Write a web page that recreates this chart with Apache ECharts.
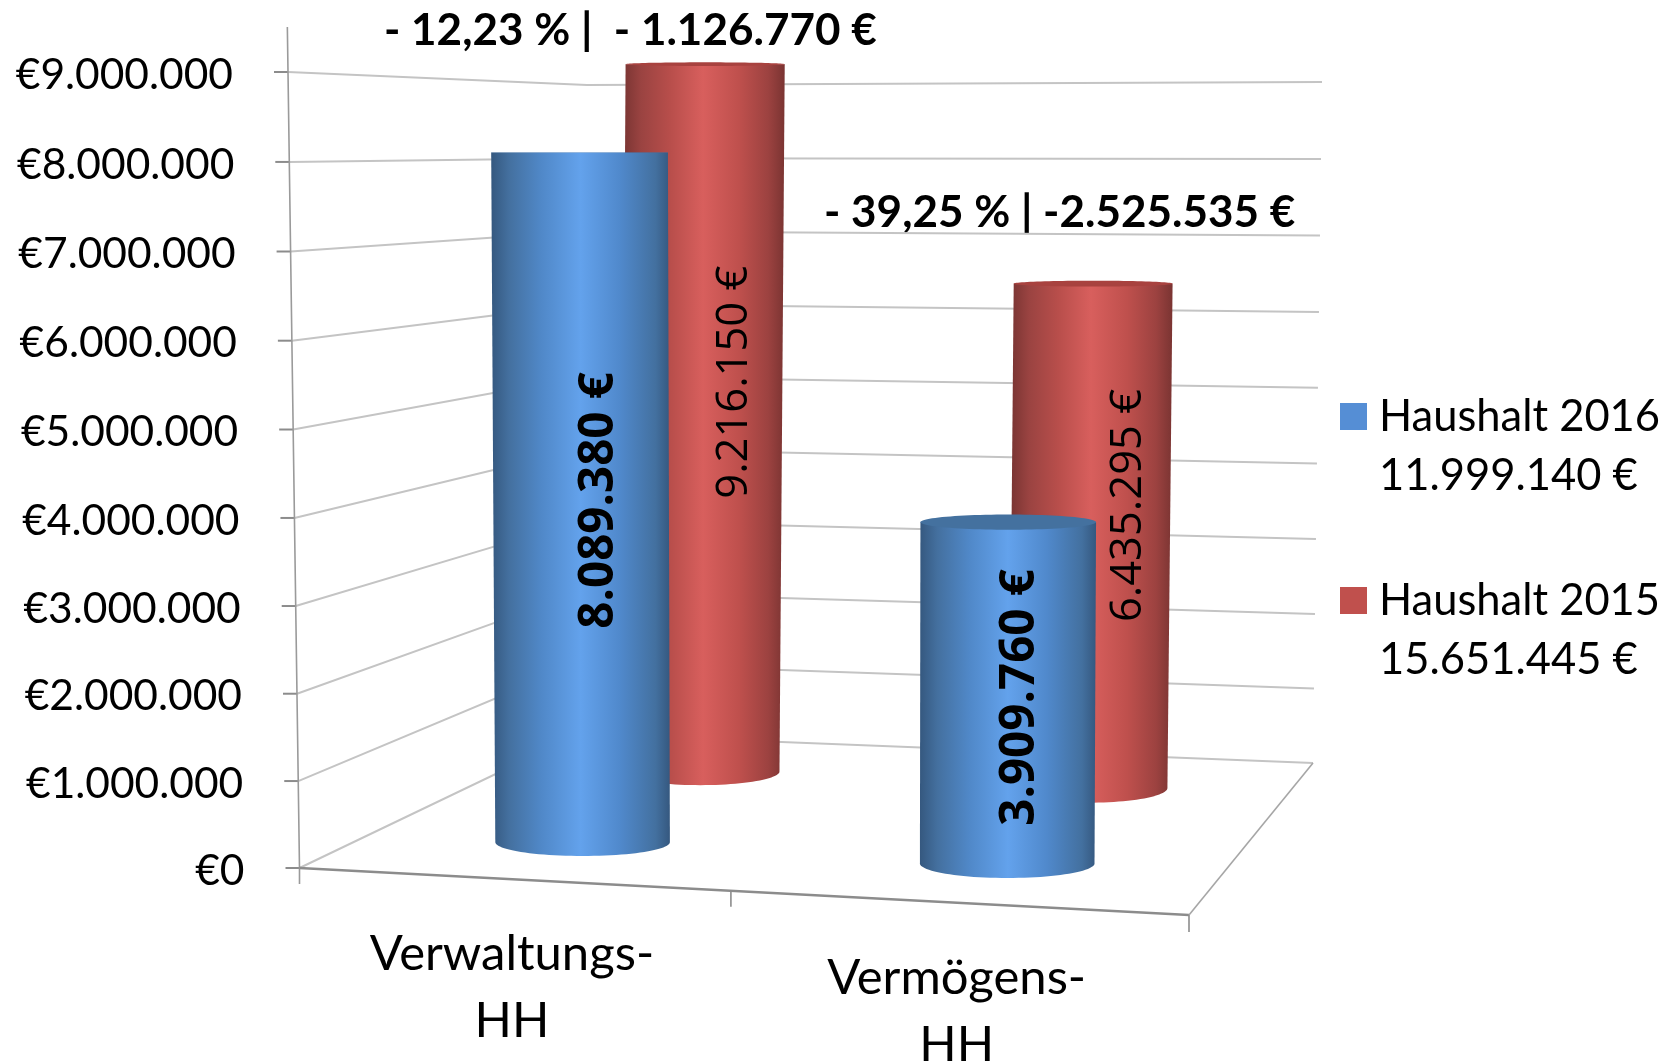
<!DOCTYPE html>
<html>
<head>
<meta charset="utf-8">
<title>Haushalt 2016 / 2015</title>
<style>
  html, body { margin: 0; padding: 0; background: #fff; }
  #main { width: 1675px; height: 1064px; }
</style>
</head>
<body>
<div id="main"></div>
<script src="https://cdn.jsdelivr.net/npm/echarts@6/dist/echarts.min.js"></script>
<script>
// data
var categories = ['Verwaltungs-\nHH', 'Vermögens-\nHH'];
var seriesNames = ['Haushalt 2016', 'Haushalt 2015'];
var seriesTotals = ['11.999.140 €', '15.651.445 €'];
var values2016 = [8089380, 3909760];
var values2015 = [9216150, 6435295];
var labels2016 = ['8.089.380 €', '3.909.760 €'];
var labels2015 = ['9.216.150 €', '6.435.295 €'];
var yTicks = [0, 1000000, 2000000, 3000000, 4000000, 5000000, 6000000, 7000000, 8000000, 9000000];
var yTickLabels = ['€0', '€1.000.000', '€2.000.000', '€3.000.000', '€4.000.000', '€5.000.000', '€6.000.000', '€7.000.000', '€8.000.000', '€9.000.000'];
var diffLabels = ['- 12,23 % |  - 1.126.770 €', '- 39,25 % | -2.525.535 €'];

var FONT = 'Lato';
var AXIS_MAX = 9500000, WALL_TOP = 9000000;

// box corners on screen: [x, y] for floor and 9 Mio level
var box = {
  fl0: [299.5, 868], fr0: [1189, 915], bl0: [579, 734], br0: [1313, 763],
  fl9: [288, 72], fr9: [1193, 62], bl9: [587, 85], br9: [1322, 82]
};
var ROW_FRONT = 0.27, ROW_BACK = 0.78;
var BAR_DU = 0.103, BAR_DW = 0.1;

function lerp(a, b, t) { return a + (b - a) * t; }
function lerp2(p, q, t) { return [lerp(p[0], q[0], t), lerp(p[1], q[1], t)]; }

// u: along the front edge, w: depth, h: 1 = 9 Mio
function project(u, w, h) {
  var bow = h - 0.019 * h * (1 - h);
  var f = lerp2(lerp2(box.fl0, box.fl9, bow), lerp2(box.fr0, box.fr9, bow), u);
  var b = lerp2(lerp2(box.bl0, box.bl9, bow), lerp2(box.br0, box.br9, bow), u);
  return lerp2(f, b, w);
}

// reads the grid scale, so every height goes through the value axis
function toBox(api, cat, value) {
  var r = api.coord([cat, value]);
  var s = api.coord([0, 0]), t = api.coord([0, AXIS_MAX]);
  var rect = api.size([1, 0]);
  var gridLeft = s[0] - rect[0] / 2;
  return {
    u: (r[0] - gridLeft) / (rect[0] * categories.length),
    h: (s[1] - r[1]) / (s[1] - t[1]) * AXIS_MAX / WALL_TOP
  };
}

function line(points, color, width) {
  return { type: 'polyline', shape: { points: points }, style: { fill: null, stroke: color, lineWidth: width }, silent: true };
}

function text(x, y, str, size, weight, rotation, fontFamily, lineHeight) {
  return {
    type: 'text', x: x, y: y, rotation: rotation || 0, silent: true,
    style: {
      text: str, fontFamily: fontFamily || FONT, fontSize: size, fontWeight: weight || 'normal',
      fill: '#000', align: 'center', verticalAlign: 'middle', lineHeight: lineHeight || size
    }
  };
}

function renderGrid(params, api) {
  var h = toBox(api, 0, api.value(1)).h;
  var a = project(0, 0, h), b = project(0, 1, h), c = project(1, 1, h);
  var kids = [
    line([a, b, c], '#c4c4c4', 2),
    line([[a[0] - 14, a[1]], a], '#8c8c8c', 2)
  ];
  var label = text(a[0] - 55, a[1] + 3, yTickLabels[params.dataIndex], 42.5);
  label.style.align = 'right';
  kids.push(label);
  return { type: 'group', children: kids };
}

function renderFrame(params, api) {
  var top = AXIS_MAX / WALL_TOP;
  var mid = project(0.485, 0, 0);
  var fl = project(0, 0, 0), fr = project(1, 0, 0), br = project(1, 1, 0);
  return {
    type: 'group',
    children: [
      line([project(0, 0, top), fl, [fl[0], fl[1] + 16]], '#9a9a9a', 1.6),
      line([fl, fr], '#8c8c8c', 2.4),
      line([fr, br], '#a6a6a6', 1.6),
      line([mid, [mid[0], mid[1] + 16]], '#8c8c8c', 1.6),
      line([fr, [fr[0], fr[1] + 17]], '#8c8c8c', 1.6)
    ]
  };
}

function renderCategory(params, api) {
  var u = toBox(api, api.value(0), 0).u;
  var p = project(u, 0, 0);
  return text(p[0] - 10, p[1] + 108, categories[params.dataIndex], 49, 'normal', 0, FONT, 67);
}

// flat screen ellipse around a point on the axis of the cylinder
function ellipseAt(u, w, h) {
  var c = project(u, w, h);
  var l = project(u - BAR_DU, w, h), r = project(u + BAR_DU, w, h);
  var n = project(u, w - BAR_DW, h), f = project(u, w + BAR_DW, h);
  return { cx: (l[0] + r[0]) / 2, cy: c[1], rx: (r[0] - l[0]) / 2, ry: Math.abs(n[1] - f[1]) / 2 };
}

function makeCylinder(opts) {
  return function (params, api) {
    var cat = api.value(0);
    var pos = toBox(api, cat, api.value(1));
    var u = pos.u + opts.shift[cat], w = opts.row, h = pos.h;
    var base = ellipseAt(u, w, 0), head = ellipseAt(u, w, h);
    var body = [], cap = [], i, th;
    for (i = 0; i <= 48; i++) {
      th = Math.PI * i / 48;
      body.push([base.cx + base.rx * Math.cos(th), base.cy + base.ry * Math.sin(th)]);
    }
    body.push([head.cx - head.rx, head.cy]);
    body.push([head.cx + head.rx, head.cy]);
    for (i = 0; i < 96; i++) {
      th = Math.PI * 2 * i / 96;
      cap.push([head.cx + head.rx * Math.cos(th), head.cy + head.ry * Math.sin(th)]);
    }
    var mid = project(u, w, h / 2);
    return {
      type: 'group',
      children: [
        {
          type: 'polygon', shape: { points: body }, silent: true,
          style: { fill: new echarts.graphic.LinearGradient(0, 0, 1, 0, opts.stops) }
        },
        { type: 'polygon', shape: { points: cap }, silent: true, style: { fill: opts.capColor } },
        text(mid[0] + opts.labelDx[cat], mid[1] + opts.labelDy[cat], opts.labels[cat], opts.labelSize, opts.labelWeight, Math.PI / 2, 'Open Sans')
      ]
    };
  };
}

var blueStops = [
  { offset: 0, color: '#35587f' }, { offset: 0.1, color: '#44709f' }, { offset: 0.28, color: '#5088c8' },
  { offset: 0.5, color: '#63a2ec' }, { offset: 0.72, color: '#5089cc' }, { offset: 0.92, color: '#43709f' }, { offset: 1, color: '#35587f' }
];
var redStops = [
  { offset: 0, color: '#763331' }, { offset: 0.12, color: '#9a4341' }, { offset: 0.3, color: '#b84e4b' },
  { offset: 0.5, color: '#d85f5d' }, { offset: 0.72, color: '#bf504d' }, { offset: 0.9, color: '#9c4240' }, { offset: 1, color: '#7a3432' }
];

var chart = echarts.init(document.getElementById('main'));
chart.setOption({
  animation: false,
  backgroundColor: '#fff',
  tooltip: { show: false },
  grid: { left: 300, top: 28, width: 889, height: 840 },
  xAxis: { type: 'category', data: categories, show: false },
  yAxis: { type: 'value', min: 0, max: AXIS_MAX, interval: 1000000, show: false },
  legend: {
    orient: 'vertical', left: 1335, top: 323,
    data: seriesNames, icon: 'rect', itemWidth: 27, itemHeight: 27, itemGap: 7,
    selectedMode: false,
    textStyle: { fontFamily: FONT, fontSize: 43.5, color: '#000', lineHeight: 59, padding: [0, 0, 0, 7] },
    formatter: function (name) {
      return '\n' + name + '\n' + seriesTotals[seriesNames.indexOf(name)];
    }
  },
  graphic: [
    { type: 'text', left: 384, top: 9, silent: true, style: { text: diffLabels[0], fontFamily: FONT, fontSize: 44, fontWeight: 'bold', fill: '#000' } },
    { type: 'text', left: 824, top: 191, silent: true, style: { text: diffLabels[1], fontFamily: FONT, fontSize: 44, fontWeight: 'bold', fill: '#000' } }
  ],
  series: [
    { type: 'custom', name: 'grid', coordinateSystem: 'cartesian2d', z: 1, silent: true, renderItem: renderGrid,
      encode: { x: 0, y: 1 }, data: yTicks.map(function (v) { return [0, v]; }) },
    { type: 'custom', name: 'frame', coordinateSystem: 'cartesian2d', z: 2, silent: true, renderItem: renderFrame,
      encode: { x: 0, y: 1 }, data: [[0, 0]] },
    { type: 'custom', name: 'categories', coordinateSystem: 'cartesian2d', z: 2, silent: true, renderItem: renderCategory,
      encode: { x: 0, y: 1 }, data: categories.map(function (c, i) { return [i, 0]; }) },
    { type: 'custom', name: seriesNames[1], coordinateSystem: 'cartesian2d', z: 3, silent: true,
      itemStyle: { color: '#c0504d' }, encode: { x: 0, y: 1 },
      data: values2015.map(function (v, i) { return [i, v]; }),
      renderItem: makeCylinder({
        row: ROW_BACK, shift: [-0.012, -0.007], stops: redStops, capColor: '#a8423f', labels: labels2015,
        labelDx: [32, 38], labelDy: [-39, -32], labelSize: 43.5, labelWeight: 'normal'
      }) },
    { type: 'custom', name: seriesNames[0], coordinateSystem: 'cartesian2d', z: 4, silent: true,
      itemStyle: { color: '#558ed5' }, encode: { x: 0, y: 1 },
      data: values2016.map(function (v, i) { return [i, v]; }),
      renderItem: makeCylinder({
        row: ROW_FRONT, shift: [-0.005, -0.004], stops: blueStops, capColor: '#44719f', labels: labels2016,
        labelDx: [18, 13], labelDy: [0, 4], labelSize: 47.5, labelWeight: 'bold'
      }) }
  ]
});
</script>
</body>
</html>
